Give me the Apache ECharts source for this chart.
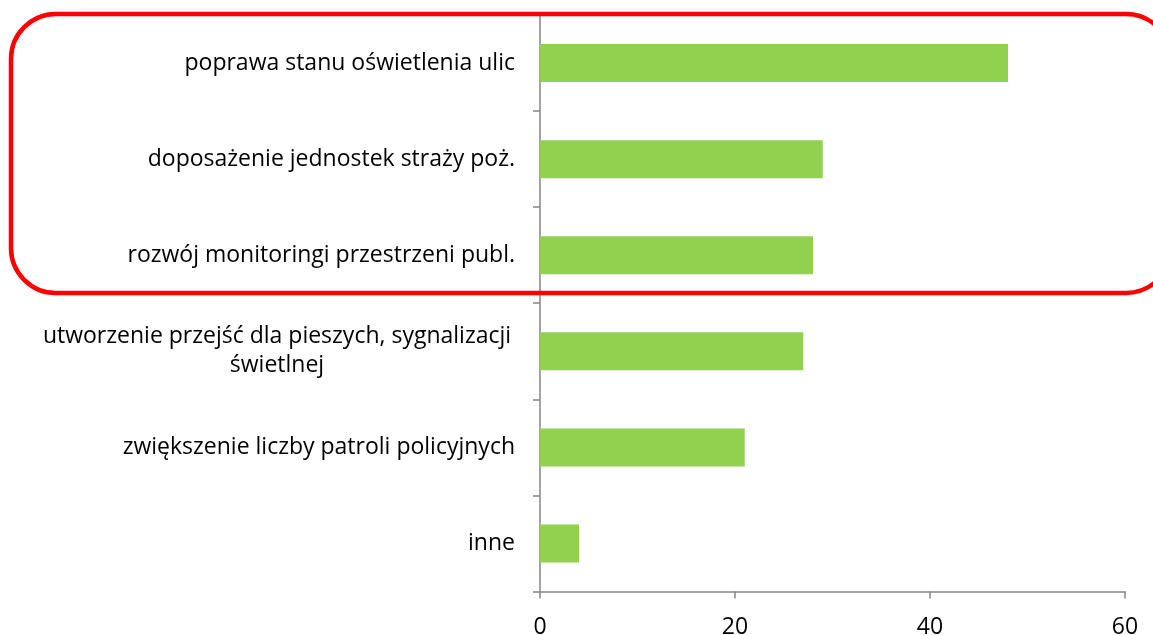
<!DOCTYPE html>
<html>
<head>
<meta charset="utf-8">
<script src="https://cdn.jsdelivr.net/npm/echarts@6/dist/echarts.min.js"></script>
<style>
  html, body { margin: 0; padding: 0; background: #fff; }
  #main { width: 1153px; height: 635px; }
</style>
</head>
<body>
<div id="main"></div>
<script>
// kategorie (od góry do dołu)
var categories = [
    'poprawa stanu oświetlenia ulic',
    'doposażenie jednostek straży poż.',
    'rozwój monitoringi przestrzeni publ.',
    'utworzenie przejść dla pieszych, sygnalizacji\nświetlnej',
    'zwiększenie liczby patroli policyjnych',
    'inne'
];
var values = [48, 29, 28, 27, 21, 4];
var xTicks = [0, 20, 40, 60];

var myChart = echarts.init(document.getElementById('main'));

// etykieta dwuwierszowa - wiersze wyśrodkowane
var yData = categories.map(function (c) {
    if (c.indexOf('\n') > -1) {
        return { value: c, textStyle: { align: 'center', padding: [4, 476, 0, 0] } };
    }
    return c;
});

myChart.setOption({
    backgroundColor: '#ffffff',
    animation: false,
    grid: {
        left: 540,
        right: 28,
        top: 15,
        bottom: 43.5,
        containLabel: false,
        outerBoundsMode: 'none'
    },
    xAxis: {
        type: 'value',
        min: xTicks[0],
        max: xTicks[xTicks.length - 1],
        interval: 20,
        axisLine: { show: true, lineStyle: { color: '#868686', width: 1.5 } },
        axisTick: { show: true, length: 7, lineStyle: { color: '#868686', width: 1.5 } },
        splitLine: { show: false },
        axisLabel: {
            color: '#000',
            fontFamily: 'Open Sans',
            fontSize: 23,
            margin: 24
        }
    },
    yAxis: {
        type: 'category',
        inverse: true,
        data: yData,
        axisLine: { show: true, lineStyle: { color: '#868686', width: 1.5 } },
        axisTick: { show: true, length: 7, interval: 0, lineStyle: { color: '#868686', width: 1.5 } },
        axisLabel: {
            color: '#000',
            fontFamily: 'Open Sans',
            fontSize: 23,
            margin: 25,
            interval: 0,
            lineHeight: 29
        }
    },
    series: [{
        type: 'bar',
        data: values,
        barWidth: 38,
        itemStyle: { color: '#92D050' }
    }],
    graphic: [{
        type: 'rect',
        z: 100,
        shape: { x: 11, y: 14, width: 1160, height: 279, r: 45 },
        style: { fill: null, stroke: '#FF0000', lineWidth: 4.5 }
    }]
});
</script>
</body>
</html>
